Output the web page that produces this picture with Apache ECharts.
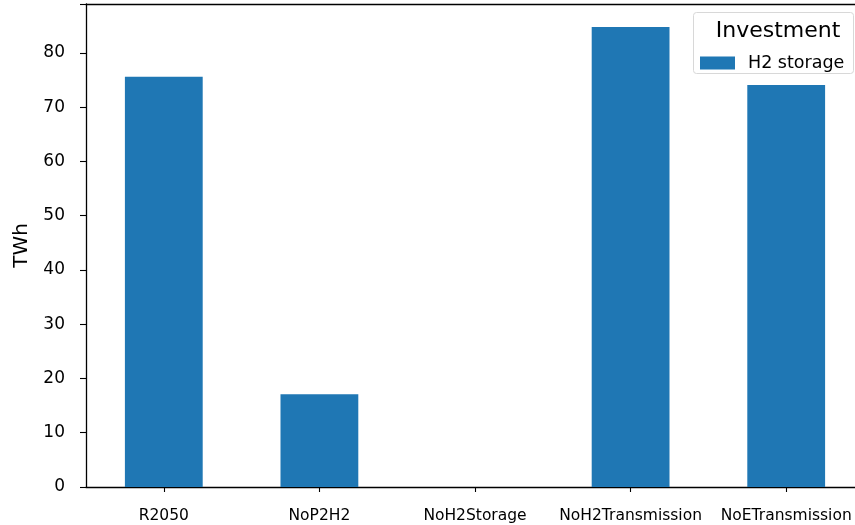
<!DOCTYPE html>
<html>
<head>
<meta charset="utf-8">
<script src="https://cdn.jsdelivr.net/npm/echarts@6/dist/echarts.min.js"></script>
<style>html,body{margin:0;padding:0;background:#fff;overflow:hidden}#c{width:864px;height:525px}</style>
</head>
<body>
<div id="c"></div>
<script>
const categories = ["R2050", "NoP2H2", "NoH2Storage", "NoH2Transmission", "NoETransmission"];
const h2Storage = [75.6, 17.1, 0, 84.8, 74.1];
const yTicks = [0, 10, 20, 30, 40, 50, 60, 70, 80];

const chart = echarts.init(document.getElementById('c'), null, {renderer: 'canvas'});
const font = 'DejaVu Sans';
chart.setOption({
  animation: false,
  backgroundColor: '#fff',
  grid: {left: 86, right: 0, top: 4, bottom: 38, containLabel: false},
  xAxis: [{
    type: 'category',
    data: categories,
    boundaryGap: true,
    axisLine: {show: true, lineStyle: {color: '#000', width: 1.3}},
    axisTick: {show: true, alignWithLabel: true, length: 5, lineStyle: {color: '#000', width: 1.1}},
    axisLabel: {color: '#000', fontFamily: font, fontSize: 15.5, margin: 21, interval: 0},
    splitLine: {show: false}
  }, {
    type: 'category',
    data: categories,
    position: 'top',
    axisLine: {show: true, lineStyle: {color: '#000', width: 1.3}},
    axisTick: {show: false},
    axisLabel: {show: false}
  }],
  yAxis: {
    type: 'value',
    min: 0,
    max: 89.03,
    interval: 10,
    name: 'TWh',
    nameLocation: 'middle',
    nameGap: 54,
    nameRotate: 90,
    nameTextStyle: {color: '#000', fontFamily: font, fontSize: 20},
    axisLine: {show: true, lineStyle: {color: '#000', width: 1.3}},
    axisTick: {show: true, length: 6, lineStyle: {color: '#000', width: 1.1}},
    axisLabel: {color: '#000', fontFamily: font, fontSize: 17, margin: 21,
      formatter: v => yTicks.includes(v) ? String(v) : ''},
    splitLine: {show: false}
  },
  title: {
    text: 'Investment',
    left: 773, top: 15, textAlign: 'center',
    textStyle: {color: '#000', fontFamily: font, fontSize: 22, fontWeight: 'normal'}
  },
  legend: {
    left: 695, top: 49,
    itemWidth: 35, itemHeight: 13, itemGap: 10,
    textStyle: {color: '#000', fontFamily: font, fontSize: 17.5, padding: [0, 0, 0, 8]},
    data: ['H2 storage'],
    icon: 'rect'
  },
  graphic: [{
    type: 'rect',
    shape: {x: 693.5, y: 12.5, width: 160, height: 61, r: 3},
    style: {fill: 'rgba(255,255,255,0.8)', stroke: '#d8d8d8', lineWidth: 1},
    z: -1
  }],
  series: [{
    name: 'H2 storage',
    type: 'bar',
    data: h2Storage,
    barWidth: '50%',
    itemStyle: {color: '#1f77b4'}
  }]
});
</script>
</body>
</html>
